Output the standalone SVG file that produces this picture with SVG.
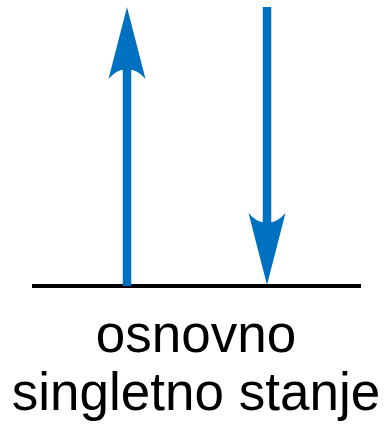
<svg xmlns="http://www.w3.org/2000/svg" width="389" height="427" viewBox="0 0 389 427">
<style>
.arrow{fill:#0070C0}
.shaft{stroke:#0070C0;stroke-width:8.5}
.lbl{font-family:"Liberation Sans",Arial,sans-serif;font-size:53px;fill:#000;text-anchor:middle}
</style>
<g id="ground-level">
<line x1="32" y1="286" x2="361" y2="286" stroke="#000" stroke-width="4"/>
</g>
<g id="connectors">
<g id="arrow-up">
<line class="shaft" x1="127" y1="286" x2="127" y2="60"/>
<path class="arrow" d="M127,7 L145.5,79 Q136,68 127,70 Q118,68 108.5,79 Z"/>
</g>
<g id="arrow-down">
<line class="shaft" x1="267" y1="7" x2="267" y2="230"/>
<path class="arrow" d="M267,285 L285.5,213 Q276,224 267,222 Q258,224 248.5,213 Z"/>
</g>
</g>
<g id="label">
<text class="lbl" x="196" y="352">osnovno</text>
<text class="lbl" x="196" y="410">singletno stanje</text>
</g>
</svg>
